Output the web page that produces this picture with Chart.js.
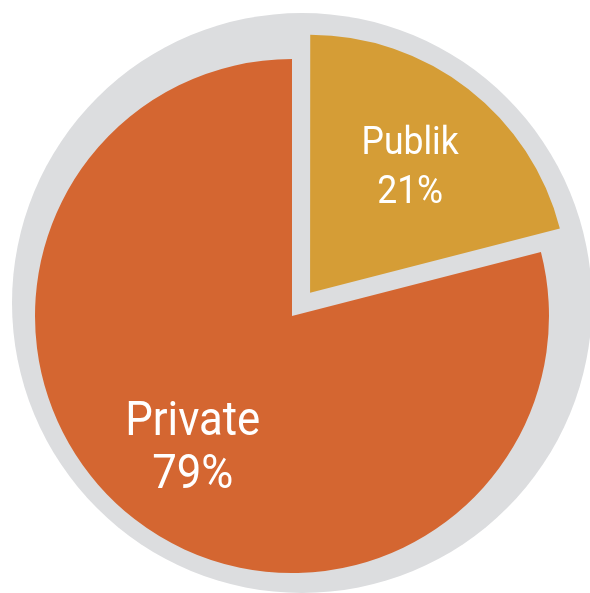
<!DOCTYPE html>
<html>
<head>
<meta charset="utf-8">
<script src="https://cdn.jsdelivr.net/npm/chart.js@4/dist/chart.umd.min.js"></script>
<style>
  html, body { margin: 0; padding: 0; background: #ffffff; }
  canvas { display: block; }
</style>
</head>
<body>
<canvas id="pie" width="590" height="593"></canvas>
<script>
// Ownership split (percent)
const categories = ['Publik', 'Private'];
const shares = [21, 79];
const sliceColors = ['#D59D36', '#D46631'];

// Grey disc behind the pie
const backdropPlugin = {
  id: 'backdrop',
  beforeDatasetsDraw(chart, args, opts) {
    const arc = chart.getDatasetMeta(0).data[0];
    if (!arc) return;
    const ctx = chart.ctx;
    ctx.save();
    ctx.fillStyle = opts.color;
    ctx.beginPath();
    ctx.arc(arc.x + opts.dx, arc.y + opts.dy, arc.outerRadius + opts.extra, 0, Math.PI * 2);
    ctx.fill();
    ctx.restore();
  }
};

// Two-line white labels (name + percent) inside each slice
const sliceLabelPlugin = {
  id: 'sliceLabels',
  afterDatasetsDraw(chart, args, opts) {
    const ctx = chart.ctx;
    const meta = chart.getDatasetMeta(0);
    const ds = chart.data.datasets[0];
    meta.data.forEach((arc, i) => {
      const st = opts.styles[i];
      const mid = (arc.startAngle + arc.endAngle) / 2;
      const r = arc.outerRadius * st.r;
      const x = arc.x + Math.cos(mid) * r;
      const y = arc.y + Math.sin(mid) * r;
      ctx.save();
      ctx.fillStyle = opts.color;
      ctx.font = st.size + 'px ' + opts.family;
      ctx.textAlign = 'center';
      ctx.textBaseline = 'alphabetic';
      ctx.translate(x, y);
      ctx.scale(opts.squeeze, 1);
      ctx.fillText(chart.data.labels[i], 0, -st.up);
      ctx.fillText(ds.data[i] + '%', 0, st.down);
      ctx.restore();
    });
  }
};

new Chart(document.getElementById('pie'), {
  type: 'pie',
  data: {
    labels: categories,
    datasets: [{
      data: shares,
      backgroundColor: sliceColors,
      borderWidth: 0,
      offset: [118, 0]
    }]
  },
  options: {
    responsive: false,
    animation: false,
    events: [],
    radius: 257,
    layout: { padding: { left: 0, right: 6, top: 39, bottom: 0 } },
    plugins: {
      legend: { display: false },
      tooltip: { enabled: false },
      backdrop: { color: '#DCDDDF', dx: 10, dy: -13, extra: 33 },
      sliceLabels: {
        color: '#FFFFFF',
        family: 'Roboto, "Noto Sans", sans-serif',
        squeeze: 0.91,
        styles: [
          { size: 39, r: 0.75, up: 10, down: 39 },
          { size: 48, r: 0.63, up: 9, down: 44 }
        ]
      }
    }
  },
  plugins: [backdropPlugin, sliceLabelPlugin]
});
</script>
</body>
</html>
